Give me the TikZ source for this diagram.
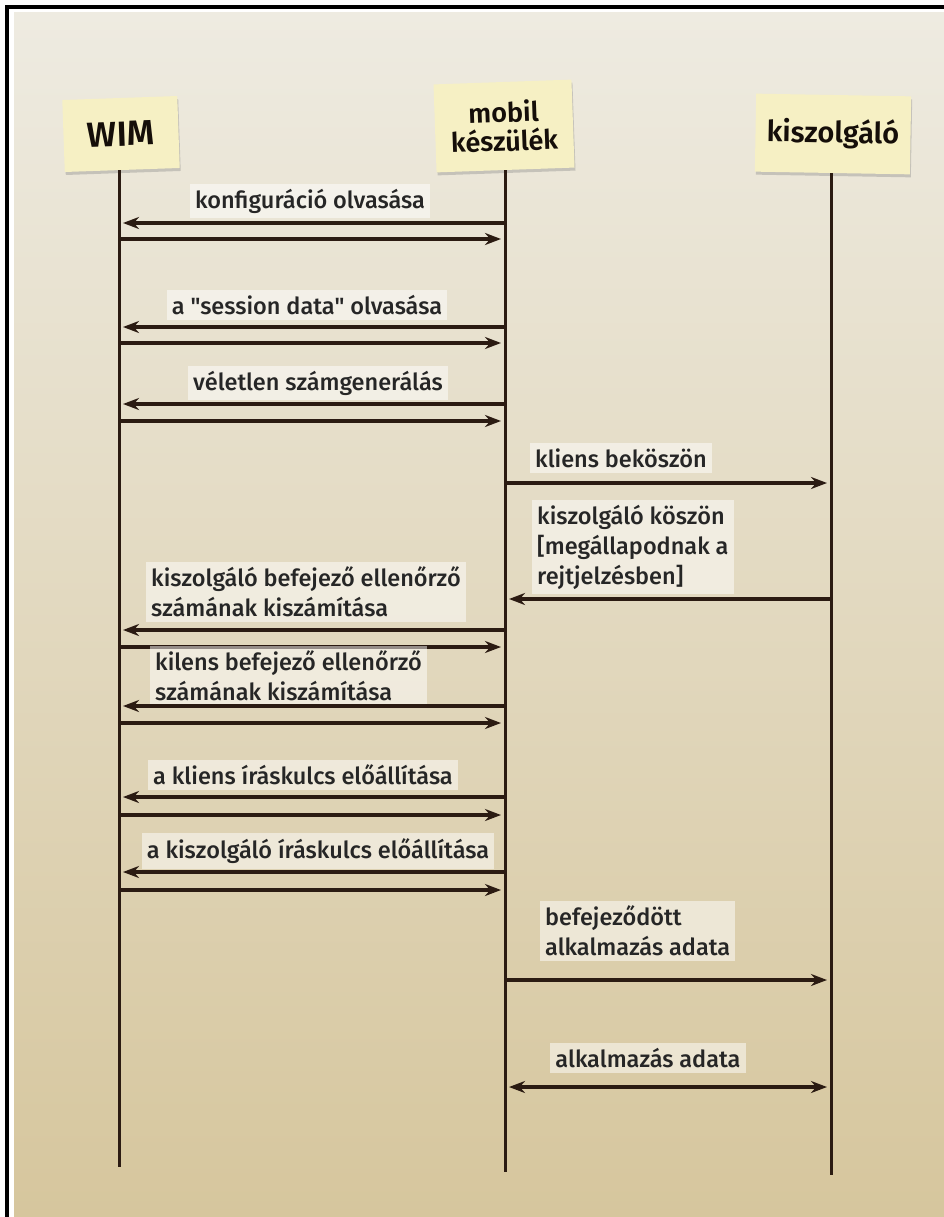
\documentclass[tikz,border=0pt]{standalone}
\usepackage{fontspec}
\setmainfont{Fira Sans}[BoldFont={Fira Sans SemiBold}]
\newfontfamily\msgfont{Fira Sans Medium}
\usetikzlibrary{arrows.meta,shadows}
\definecolor{ink}{RGB}{43,27,18}
\definecolor{notepaper}{RGB}{246,240,196}
\definecolor{paperhi}{RGB}{238,235,225}
\definecolor{papermid}{RGB}{228,218,192}
\definecolor{paperlo}{RGB}{214,198,157}

\begin{document}
\begin{tikzpicture}[x=1pt,y=-1pt,
    >={Stealth[length=16pt,width=12pt]},
    note/.style={fill=notepaper, text=ink!50!black, font=\bfseries\fontsize{29}{29}\selectfont, align=center,
        drop shadow={shadow xshift=1pt,shadow yshift=-3pt,opacity=.35}},
    life/.style={ink, line width=3pt},
    msg/.style={ink, line width=3.2pt, shorten >=4pt},
    lbl/.style={fill=white, fill opacity=.5, text opacity=1, text=black!85, font=\msgfont\fontsize{23.5}{30}\selectfont,
        align=left, inner sep=5pt}]
            \useasboundingbox (0,0) rectangle (944,1217);
            \fill[white] (0,0) rectangle (944,1217);
            \shade[top color=paperhi, middle color=papermid, bottom color=paperlo] (14,13) rectangle (944,1217);
            \fill[black] (5,5) rectangle (944,9);
            \fill[black] (5,5) rectangle (9,1217);

            \node[note, rotate=2, minimum width=115pt, minimum height=72pt, font=\bfseries\fontsize{35}{35}\selectfont] (wim) at (121,134) {WIM};
            \node[note, rotate=2, minimum width=138pt, minimum height=88pt, font=\bfseries\fontsize{27}{29}\selectfont] (mobil) at (504,126) {mobil\\készülék};
            \node[note, rotate=-1, minimum width=155pt, minimum height=78pt] (szerver) at (833,134) {kiszolgáló};

            \coordinate (wimZ) at (119,1167);
            \coordinate (mobilZ) at (505,1172);
            \coordinate (szerverZ) at (831,1175);
            \draw[life] (wim.south -| wimZ) -- (wimZ);
            \draw[life] (mobil.south -| mobilZ) -- (mobilZ);
            \draw[life] (szerver.south -| szerverZ) -- (szerverZ);

            \node[lbl] (m1) at (310,201) {konfiguráció olvasása};
            \draw[msg,->] (mobilZ |- 0,223) -- (wimZ |- 0,223);
            \draw[msg,->] (wimZ |- 0,239) -- (mobilZ |- 0,239);
            \node[lbl] (m2) at (307,305) {a "session data" olvasása};
            \draw[msg,->] (mobilZ |- 0,327) -- (wimZ |- 0,327);
            \draw[msg,->] (wimZ |- 0,343) -- (mobilZ |- 0,343);
            \node[lbl] (m3) at (318,383) {véletlen számgenerálás};
            \draw[msg,->] (mobilZ |- 0,404) -- (wimZ |- 0,404);
            \draw[msg,->] (wimZ |- 0,421) -- (mobilZ |- 0,421);

            \node[lbl, anchor=west] (m4) at (530,458) {kliens beköszön};
            \draw[msg,->] (mobilZ |- 0,483) -- (szerverZ |- 0,483);
            \node[lbl, anchor=west] (m5) at (532,547) {kiszolgáló köszön\\{}[megállapodnak a\\rejtjelzésben]};
            \draw[msg,->] (szerverZ |- 0,599) -- (mobilZ |- 0,599);

            \node[lbl, anchor=west] (m6) at (146,592) {kiszolgáló befejező ellenőrző\\számának kiszámítása};
            \draw[msg,->] (mobilZ |- 0,630) -- (wimZ |- 0,630);
            \draw[msg,->] (wimZ |- 0,647) -- (mobilZ |- 0,647);
            \node[lbl, anchor=west] (m7) at (150,676) {kilens befejező ellenőrző\\számának kiszámítása};
            \draw[msg,->] (mobilZ |- 0,706) -- (wimZ |- 0,706);
            \draw[msg,->] (wimZ |- 0,723) -- (mobilZ |- 0,723);
            \node[lbl] (m8) at (303,775) {a kliens íráskulcs előállítása};
            \draw[msg,->] (mobilZ |- 0,797) -- (wimZ |- 0,797);
            \draw[msg,->] (wimZ |- 0,815) -- (mobilZ |- 0,815);
            \node[lbl] (m9) at (318,851) {a kiszolgáló íráskulcs előállítása};
            \draw[msg,->] (mobilZ |- 0,872) -- (wimZ |- 0,872);
            \draw[msg,->] (wimZ |- 0,890) -- (mobilZ |- 0,890);

            \node[lbl, anchor=west] (m10) at (540,931) {befejeződött\\alkalmazás adata};
            \draw[msg,->] (mobilZ |- 0,980) -- (szerverZ |- 0,980);
            \node[lbl] (m11) at (648,1058) {alkalmazás adata};
            \draw[msg,<->,shorten <=4pt] (mobilZ |- 0,1087) -- (szerverZ |- 0,1087);
        \end{tikzpicture}
\end{document}
